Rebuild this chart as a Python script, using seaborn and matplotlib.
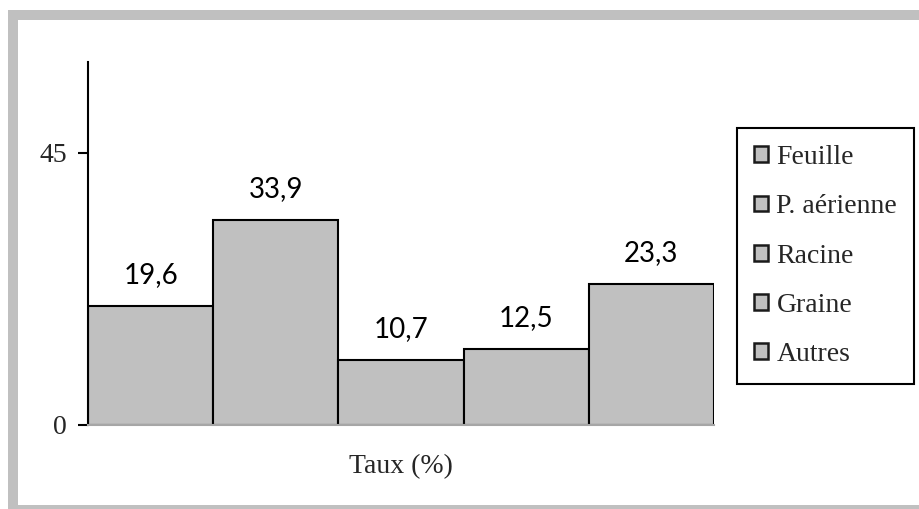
import matplotlib
matplotlib.use("Agg")
import matplotlib.pyplot as plt
from matplotlib.patches import Patch, Rectangle
import pandas as pd
import seaborn as sns

# Parts of the plant and their share (%)
parts = ["Feuille", "P. aérienne", "Racine", "Graine", "Autres"]
taux = [19.6, 33.9, 10.7, 12.5, 23.3]
y_ticks = [0, 45]
x_title = "Taux (%)"

BAR_GREY = "#c0c0c0"
SERIF = ["Liberation Serif", "DejaVu Serif"]
SANS = ["Lato", "DejaVu Sans"]
FS = 20

sns.set_style("white")
plt.rcParams["font.family"] = SERIF

W, H, DPI = 920, 509, 100
fig = plt.figure(figsize=(W / DPI, H / DPI), dpi=DPI)
fig.patch.set_facecolor("white")

# grey frame around the chart area (left, top and bottom bands)
for (x0, y0, w, h) in [(8, 10, 10, 499), (8, 10, 912, 10), (8, 505, 912, 4)]:
    fig.patches.append(Rectangle((x0 / W, 1 - (y0 + h) / H), w / W, h / H,
                                 transform=fig.transFigure, facecolor=BAR_GREY,
                                 edgecolor="none", zorder=0))

ax = fig.add_axes([88 / W, (H - 425) / H, (714 - 88) / W, (425 - 62) / H])

df = pd.DataFrame({"part": parts, "taux": taux})
sns.barplot(data=df, x="part", y="taux", order=parts, width=1.0,
            color=BAR_GREY, saturation=1, edgecolor="black", linewidth=1.5,
            ax=ax)

ax.set_xlim(-0.5, len(parts) - 0.5)
ax.set_ylim(0, 60)
ax.set_yticks(y_ticks)
ax.set_yticklabels([str(t) for t in y_ticks], fontsize=FS, family=SERIF)
ax.tick_params(axis="y", direction="out", length=7, width=1.5, pad=8,
               color="black", left=True)
ax.set_xticks([])
ax.set_ylabel("")
ax.set_xlabel(x_title, fontsize=FS, family=SERIF, labelpad=21)

for side in ["top", "right"]:
    ax.spines[side].set_visible(False)
ax.spines["left"].set_color("black")
ax.spines["left"].set_linewidth(1.5)
ax.spines["bottom"].set_color("#a6a6a6")
ax.spines["bottom"].set_linewidth(1.5)

for cont in ax.containers:
    ax.bar_label(cont, labels=[f"{v:.1f}".replace(".", ",") for v in cont.datavalues],
                 padding=13, fontsize=FS, family=SANS, color="black")

handles = [Patch(facecolor=BAR_GREY, edgecolor="#1a1a1a", linewidth=1.8, label=p)
           for p in parts]
leg = fig.legend(handles=handles, loc="upper left",
                 bbox_to_anchor=(737 / W, 1 - 128 / H),
                 bbox_transform=fig.transFigure,
                 prop={"family": SERIF, "size": FS},
                 frameon=True, fancybox=False, framealpha=1, shadow=False,
                 handlelength=0.5, handleheight=0.5, handletextpad=0.3,
                 borderpad=0.62, labelspacing=0.87, borderaxespad=0)
leg.get_frame().set_edgecolor("black")
leg.get_frame().set_linewidth(1.5)

fig.savefig("out.png", dpi=DPI, facecolor="white")
